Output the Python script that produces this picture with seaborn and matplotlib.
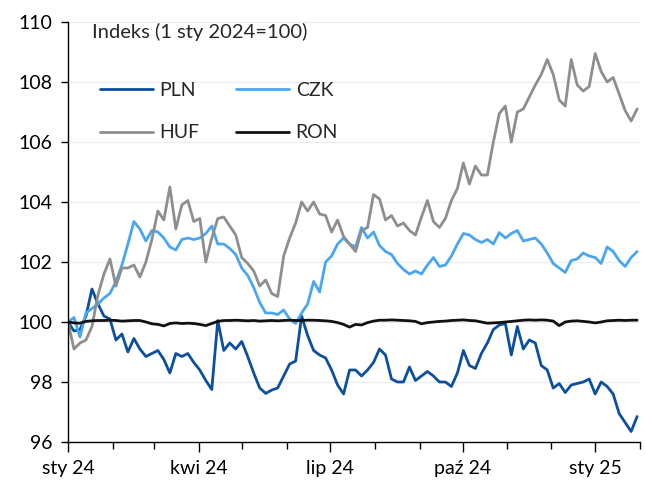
import seaborn as sns
import pandas as pd
import matplotlib as mpl
import matplotlib.pyplot as plt
import matplotlib.dates as mdates

# index values, 1 Jan 2024 = 100, every 4 days
pln = [
    100.0, 99.7, 99.75, 100.2, 101.1, 100.6, 100.2, 100.1, 99.4, 99.6,
    99.0, 99.45, 99.1, 98.85, 98.95, 99.05, 98.75, 98.3, 98.95, 98.85,
    98.95, 98.65, 98.4, 98.05, 97.75, 100.05, 99.05, 99.3, 99.1, 99.35,
    98.85, 98.3, 97.8, 97.62, 97.73, 97.8, 98.2, 98.6, 98.7, 100.2,
    99.55, 99.05, 98.9, 98.8, 98.4, 97.9, 97.6, 98.4, 98.4, 98.2,
    98.4, 98.65, 99.1, 98.9, 98.1, 98.0, 98.0, 98.5, 98.05, 98.2,
    98.35, 98.2, 98.0, 98.0, 97.85, 98.3, 99.05, 98.55, 98.45, 98.95,
    99.3, 99.75, 99.9, 99.95, 98.9, 99.85, 99.1, 99.4, 99.3, 98.55,
    98.4, 97.8, 97.95, 97.65, 97.9, 97.95, 98.0, 98.1, 97.6, 98.0,
    97.85, 97.6, 96.95, 96.65, 96.35, 96.85,
]
czk = [
    100.0, 100.15, 99.5, 100.3, 100.45, 100.6, 100.8, 100.95, 101.35, 101.9,
    102.6, 103.35, 103.1, 102.7, 103.05, 103.0, 102.8, 102.5, 102.4, 102.75,
    102.8, 102.75, 102.8, 102.95, 103.2, 102.6, 102.6, 102.45, 102.25, 101.8,
    101.55, 101.15, 100.65, 100.3, 100.3, 100.25, 100.4, 100.1, 99.95, 100.3,
    100.6, 101.35, 101.0, 102.0, 102.2, 102.6, 102.8, 102.6, 102.5, 103.15,
    102.8, 103.0, 102.55, 102.35, 102.25, 101.95, 101.75, 101.6, 101.7, 101.6,
    101.9, 102.15, 101.85, 101.9, 102.2, 102.6, 102.95, 102.9, 102.75, 102.65,
    102.75, 102.6, 102.98, 102.8, 102.95, 103.05, 102.7, 102.75, 102.8, 102.6,
    102.3, 101.95, 101.8, 101.65, 102.05, 102.1, 102.3, 102.2, 102.15, 101.95,
    102.5, 102.35, 102.05, 101.85, 102.15, 102.35,
]
huf = [
    100.0, 99.1, 99.3, 99.4, 99.85, 100.9, 101.6, 102.1, 101.2, 101.8,
    101.8, 101.9, 101.5, 102.0, 102.75, 103.7, 103.4, 104.5, 103.1, 103.9,
    104.05, 103.35, 103.45, 102.0, 102.8, 103.45, 103.5, 103.2, 102.9, 102.15,
    101.95, 101.7, 101.2, 101.4, 100.95, 100.85, 102.2, 102.8, 103.3, 104.0,
    103.7, 104.0, 103.6, 103.55, 103.0, 103.4, 102.85, 102.6, 102.35, 103.05,
    103.15, 104.25, 104.1, 103.4, 103.55, 103.2, 103.3, 103.05, 102.9, 103.5,
    104.05, 103.35, 103.15, 103.45, 104.05, 104.45, 105.3, 104.6, 105.2, 104.9,
    104.9, 106.0, 106.95, 107.2, 106.0, 107.0, 107.1, 107.5, 107.9, 108.25,
    108.75, 108.25, 107.4, 107.2, 108.75, 107.9, 107.7, 107.85, 108.95, 108.35,
    108.0, 108.15, 107.6, 107.05, 106.7, 107.1,
]
ron = [
    100.0, 99.97, 99.96, 100.02, 100.04, 100.05, 100.05, 100.06, 100.05, 100.03,
    100.04, 100.05, 100.05, 100.0, 99.94, 99.92, 99.87, 99.95, 99.97, 99.95,
    99.96, 99.95, 99.92, 99.88, 99.95, 100.02, 100.05, 100.05, 100.06, 100.05,
    100.04, 100.05, 100.03, 100.04, 100.05, 100.04, 100.05, 100.06, 100.05, 100.05,
    100.06, 100.06, 100.05, 100.04, 100.02, 99.98, 99.92, 99.83, 99.92, 99.9,
    99.98, 100.03, 100.06, 100.06, 100.07, 100.06, 100.05, 100.04, 100.02, 99.94,
    99.98, 100.0, 100.02, 100.03, 100.05, 100.06, 100.07, 100.05, 100.04, 100.0,
    99.96, 99.97, 99.98, 100.0, 100.02, 100.04, 100.06, 100.07, 100.06, 100.07,
    100.06, 100.03, 99.88, 100.0, 100.03, 100.04, 100.02, 100.0, 99.97, 100.0,
    100.04, 100.05, 100.06, 100.05, 100.06, 100.06,
]
dates = pd.date_range('2024-01-01', '2025-01-30', periods=len(pln))

series = ['PLN', 'CZK', 'HUF', 'RON']
colors = ['#0b4f9e', '#4aa6f2', '#8e8e8e', '#111111']
month_names = ['sty', 'lut', 'mar', 'kwi', 'maj', 'cze',
               'lip', 'sie', 'wrz', 'paź', 'lis', 'gru']

data = pd.DataFrame({
    'date': list(dates) * 4,
    'value': pln + czk + huf + ron,
    'waluta': [s for s in series for _ in dates],
})

sns.set_style("white")
plt.rcParams['font.family'] = ['Lato', 'DejaVu Sans']

fig = plt.figure(figsize=(6.46, 4.8), dpi=100)
ax = fig.add_axes([68 / 646, 38 / 480, 572 / 646, 420 / 480])

sns.lineplot(data=data, x='date', y='value', hue='waluta', hue_order=series,
             palette=colors, linewidth=2.0, ax=ax)

ax.set_xlim(pd.Timestamp('2024-01-01'), pd.Timestamp('2025-02-01'))
ax.set_ylim(96, 110)
ax.set_yticks(range(96, 111, 2))
ax.xaxis.set_major_locator(mdates.MonthLocator(bymonth=[1, 4, 7, 10]))
ax.xaxis.set_minor_locator(mdates.MonthLocator())
ax.xaxis.set_major_formatter(mpl.ticker.FuncFormatter(
    lambda v, pos: f"{month_names[mdates.num2date(v).month - 1]} {mdates.num2date(v).year % 100}"))

ax.grid(axis='y', color='#ececec', linewidth=0.8)
ax.grid(axis='x', visible=False)
for side in ['top', 'right']:
    ax.spines[side].set_visible(False)
for side in ['left', 'bottom']:
    ax.spines[side].set_color('black')
    ax.spines[side].set_linewidth(1.0)

ax.tick_params(axis='both', which='major', labelsize=14, colors='black', direction='out')
ax.tick_params(axis='y', which='major', left=True, length=5, width=1, pad=6)
ax.tick_params(axis='x', which='major', bottom=True, length=7, width=1, pad=6)
ax.tick_params(axis='x', which='minor', bottom=True, length=5, width=1, color='black')
ax.set_xlabel('')
ax.set_ylabel('')

ax.text(0.042, 0.976, 'Indeks (1 sty 2024=100)', transform=ax.transAxes,
        fontsize=14.5, ha='left', va='center')

# legend filled column by column, so order handles to get PLN CZK / HUF RON rows
handles, labels = ax.get_legend_handles_labels()
lookup = dict(zip(labels, handles))
order = ['PLN', 'HUF', 'CZK', 'RON']
ax.legend([lookup[k] for k in order], order, loc='upper left',
          bbox_to_anchor=(0.056, 0.857), ncol=2, frameon=False,
          fontsize=14, handlelength=2.7, handletextpad=0.35, columnspacing=1.9,
          labelspacing=1.3, borderpad=0, borderaxespad=0)

fig.savefig('out.png', dpi=100)
